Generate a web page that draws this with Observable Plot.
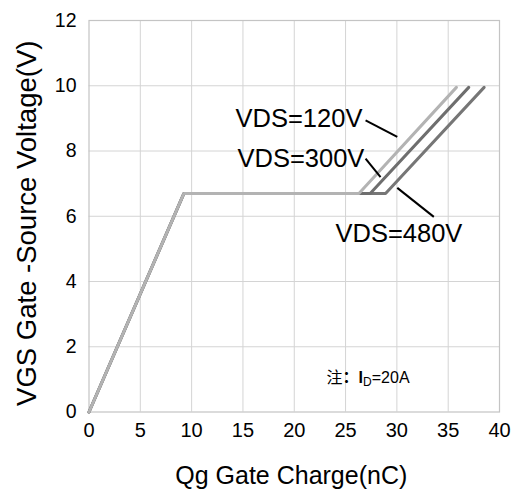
<!DOCTYPE html>
<html>
<head>
<meta charset="utf-8">
<script src="https://cdn.jsdelivr.net/npm/d3@7"></script>
<script src="https://cdn.jsdelivr.net/npm/@observablehq/plot@0.6"></script>
<style>
  html, body { margin: 0; padding: 0; background: #fff; }
  svg { display: block; }
</style>
</head>
<body>
<div id="chart"></div>
<script>
// ---- data ----
const seriesNames = ["VDS=120V", "VDS=300V", "VDS=480V"];
const qg120 = [0, 9.25, 26.3, 35.8];
const vgs120 = [0, 6.7, 6.7, 9.95];
const qg300 = [0, 9.25, 27.4, 37.0];
const vgs300 = [0, 6.7, 6.7, 9.95];
const qg480 = [0, 9.25, 28.9, 38.5];
const vgs480 = [0, 6.7, 6.7, 9.95];
const seriesColors = ["#b3b3b3", "#6e6e6e", "#767676"];

const xTicks = [0, 5, 10, 15, 20, 25, 30, 35, 40];
const yTicks = [0, 2, 4, 6, 8, 10, 12];

// annotation labels (data coordinates) and leader lines
const labelX = [14.28, 14.47, 24.02];
const labelY = [8.74, 7.52, 5.21];
const leaderX1 = [26.95, 26.95, 30.04];
const leaderY1 = [8.94, 7.77, 6.87];
const leaderX2 = [30.04, 28.41, 33.6];
const leaderY2 = [8.43, 7.20, 5.98];

const xLabel = "Qg Gate Charge(nC)";
const yLabel = "VGS Gate -Source Voltage(V)";

// ---- build tables ----
const curves = [];
[[qg120, vgs120], [qg300, vgs300], [qg480, vgs480]].forEach(([qs, vs], s) => {
  qs.forEach((q, i) => curves.push({series: seriesNames[s], qg: q, vgs: vs[i], order: s}));
});
const drawOrder = [2, 1, 0]; // light 120V drawn on top
const labels = seriesNames.map((n, i) => ({text: n, x: labelX[i], y: labelY[i]}));
const leaders = seriesNames.map((n, i) => ({x1: leaderX1[i], y1: leaderY1[i], x2: leaderX2[i], y2: leaderY2[i]}));

const font = "'Liberation Sans', Arial, 'Noto Sans CJK SC', sans-serif";

const chart = Plot.plot({
  width: 518,
  height: 490,
  marginLeft: 88.5,
  marginRight: 19,
  marginTop: 20,
  marginBottom: 78.5,
  style: {fontFamily: font, color: "#000", background: "#fff", overflow: "visible"},
  x: {domain: [0, 40]},
  y: {domain: [0, 12]},
  marks: [
    Plot.gridX(xTicks.slice(1, -1), {stroke: "#d4d4d4", strokeOpacity: 1, strokeWidth: 1}),
    Plot.gridY(yTicks.slice(1, -1), {stroke: "#d4d4d4", strokeOpacity: 1, strokeWidth: 1}),
    Plot.frame({stroke: "#c4c4c4", strokeWidth: 1.2}),
    Plot.axisX({ticks: xTicks, tickSize: 0, tickPadding: 11, fontSize: 20, label: null}),
    Plot.axisY({ticks: yTicks, tickSize: 0, tickPadding: 12.5, fontSize: 19.5, label: null}),
    ...drawOrder.map(s =>
      Plot.line(curves.filter(d => d.order === s), {
        x: "qg", y: "vgs", stroke: seriesColors[s], strokeWidth: 3, strokeLinejoin: "miter"
      })
    ),
    Plot.link(leaders, {x1: "x1", y1: "y1", x2: "x2", y2: "y2", stroke: "#000", strokeWidth: 2}),
    Plot.text(labels, {x: "x", y: "y", text: "text", textAnchor: "start", lineAnchor: "bottom", fontSize: 25.5, fill: "#000"}),
    Plot.text([xLabel], {text: d => d, frameAnchor: "bottom", textAnchor: "middle", lineAnchor: "bottom", dy: 71.5, dx: -3, fontSize: 25, fill: "#000"}),
    Plot.text([yLabel], {text: d => d, frameAnchor: "left", textAnchor: "middle", rotate: -90, lineAnchor: "middle", dx: -62, dy: 7, fontSize: 27.5, fill: "#000"})
  ]
});

// note "注：I_D=20A" with bold I and subscript D
const noteX = 23.2, noteY = 0.87;
const sx = chart.scale("x"), sy = chart.scale("y");
const note = d3.select(chart).append("text")
  .attr("x", sx.apply(noteX))
  .attr("y", sy.apply(noteY))
  .attr("text-anchor", "start")
  .attr("font-size", 16)
  .attr("font-family", font)
  .attr("fill", "#000");
note.append("tspan").text("注");
note.append("tspan").attr("font-weight", "bold").text("：");
note.append("tspan").attr("font-weight", "bold").text("I");
note.append("tspan").attr("font-size", 12).attr("dy", 3).text("D");
note.append("tspan").attr("dy", -3).text("=20A");

document.getElementById("chart").append(chart);
</script>
</body>
</html>
